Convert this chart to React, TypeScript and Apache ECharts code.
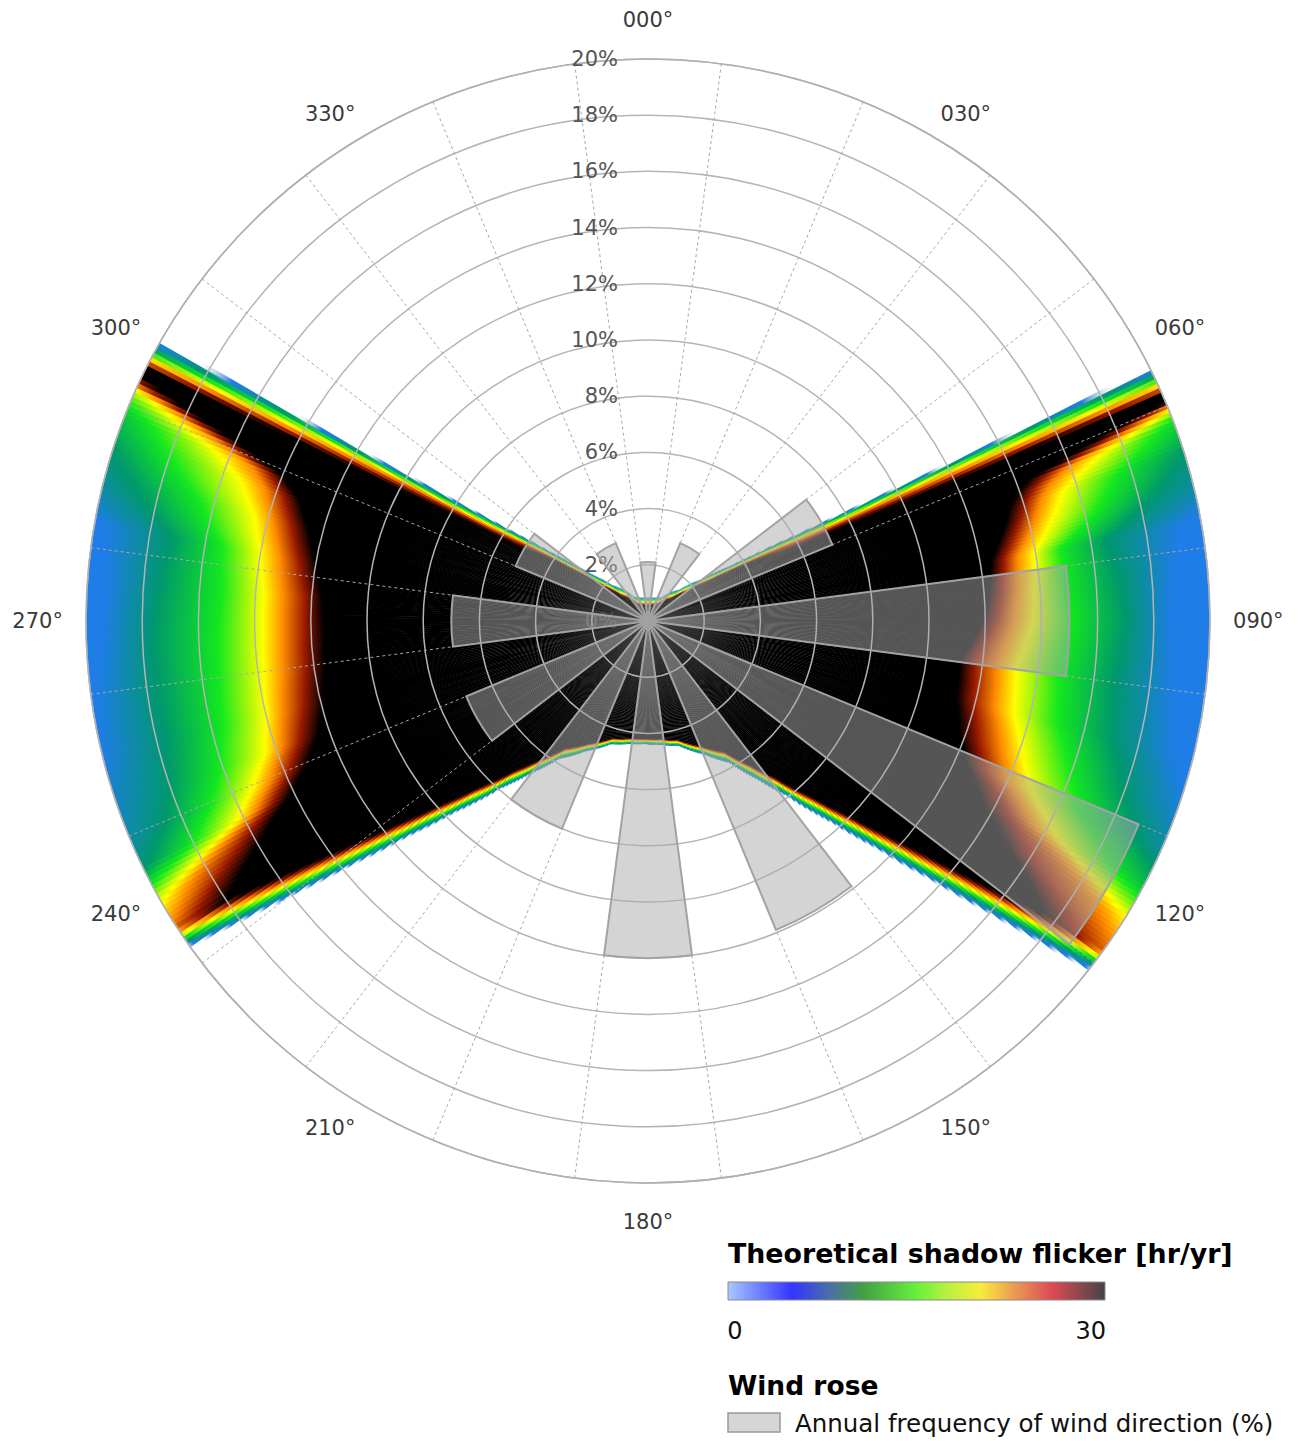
import React, { useEffect, useRef } from "react";
import * as echarts from "echarts";

const FONT = '"DejaVu Sans", Verdana, sans-serif';

// ---------------- Wind rose (12 sectors, annual frequency %) ----------------
const windDirections = ["000°", "030°", "060°", "090°", "120°", "150°", "180°", "210°", "240°", "270°", "300°", "330°"];
const windBearings = [0, 30, 60, 90, 120, 150, 180, 210, 240, 270, 300, 330];
const windFrequency = [2.1, 3.0, 7.1, 15.0, 18.9, 11.9, 12.0, 8.0, 7.0, 7.0, 5.1, 3.0];

// radius axis (%)
const radiusMin = 0;
const radiusMax = 20;
const radiusStep = 2;

// ---------------- Theoretical shadow flicker field ----------------
// colour scale of the map (hr/yr) -> rgba
const flickerLevels = [0, 3, 8, 13, 18, 22, 26, 30];
const flickerColors = [
  [195, 200, 210, 0],
  [30, 125, 230, 1],
  [0, 152, 108, 1],
  [20, 232, 30, 1],
  [255, 255, 0, 1],
  [255, 140, 0, 1],
  [150, 24, 0, 1],
  [0, 0, 0, 1],
];
// levels whose radii are given in the lobe rows
const fallLevels = [30, 26, 22, 18, 13, 8, 3];
const O = 40; // "open": beyond the 20 % ring

// edge rows: [bearing°, outer boundary %, width of the edge fade %]
const eastEdge = [
  [0, 0.85, 0.3], [15, 0.88, 0.3], [30, 0.98, 0.31], [45, 1.61, 0.52], [52, 2.45, 0.8],
  [56, 3.54, 1.15], [58, 4.55, 1.48], [60, 6.39, 2.36], [61, 8.0, 3.5], [62, 10.77, 5.9],
  [62.5, 13.0, 7.9], [63, 16.4, 11.0], [63.5, 20.7, 14.5], [64, 23.4, 16.2], [64.5, 27.0, 18.6],
  [65, 32.0, 21.8], [65.5, 38.9, 26.4], [66, 48.9, 32.4], [66.5, 60, 31.5],
];
// lobe rows: [bearing°, outer %, fade %, radius % where value falls to 30, 26, 22, 18, 13, 8, 3 hr/yr]
const eastLobe = [
  [67.0, O, 0, 20.2, 21.2, 22.2, 23.2, 24.8, 26.5, 29.5],
  [67.8, O, 0, 17.6, 18.6, 19.5, 20.5, 22.0, 24.0, 26.5],
  [68.7, O, 0, 16.0, 17.0, 17.9, 18.8, 20.3, 22.5, 25],
  [69.7, O, 0, 14.4, 15.2, 16.0, 17.2, 19.3, 21.5, 24.5],
  [71, O, 0, 13.9, 14.5, 15.2, 16.3, 18.6, 21, 24],
  [72.5, O, 0, 13.5, 14.1, 14.7, 15.5, 17.5, 20, 23],
  [76, O, 0, 13.0, 13.5, 14.1, 14.8, 16.5, 18.5, 22],
  [80, O, 0, 12.4, 12.85, 13.35, 13.95, 14.9, 16.5, 19.2],
  [85, O, 0, 12.2, 12.65, 13.2, 13.8, 14.9, 16.8, 18.8],
  [90, O, 0, 11.9, 12.4, 13.0, 13.7, 15.0, 17.0, 18.6],
  [97, O, 0, 11.2, 11.7, 12.5, 13.2, 14.7, 16.7, 18.8],
  [104, O, 0, 11.3, 11.9, 12.7, 13.4, 15.0, 17.0, 19.3],
  [110, O, 0, 11.8, 12.5, 13.4, 14.2, 16.0, 18.0, 20.5],
  [114, O, 0, 12.4, 13.1, 14.0, 14.9, 16.8, 19.0, 21.5],
  [118, O, 0, 13.4, 14.5, 15.5, 16.5, 18.7, 21.0, 24],
  [122, O, 0, 15.0, 16.3, 18.8, 20.2, 22.5, 25, 28],
  [125, 32, 10, 16.8, 18.3, 20.3, 21.5, 23.5, 26, 29],
  [126, 25.2, 6.5, 17.3, 18.8, 20.8, 22, 24, 26.5, 29.5],
  [127, 22.5, 5.6, 17.8, 19.3, 21.2, 22.5, 24.5, 27, 30],
];
const southEdge = [
  [128.3, 19.9, 4.9], [129.4, 17.7, 4.0], [130.6, 15.8, 3.3], [132.3, 13.7, 2.55], [134.6, 11.6, 1.87],
  [137.4, 9.8, 1.37], [141.4, 8.0, 0.95], [145.2, 6.9, 0.72], [150, 5.85, 0.5], [157, 5.18, 0.34],
  [166, 4.6, 0.25], [174, 4.45, 0.23], [181.4, 4.4, 0.22], [188.8, 4.45, 0.23], [196.8, 4.6, 0.25],
  [205.8, 5.18, 0.34], [212.8, 5.87, 0.5], [217.6, 6.9, 0.72], [221.4, 8.0, 0.95], [225.4, 9.8, 1.37],
  [228.2, 11.6, 1.87], [230.5, 13.7, 2.55], [232.2, 15.8, 3.3], [233.4, 17.7, 4.0], [234.5, 19.9, 4.9],
];
const westLobe = [
  [235.8, 22.5, 5.6, 18.3, 19.8, 21, 22.3, 24, 26.5, 29.5],
  [236.8, 25.2, 6.5, 17.9, 19.3, 20.6, 21.8, 23.5, 26, 29],
  [237.8, 32, 10, 17.3, 18.7, 20.0, 21.2, 23, 25.5, 28.5],
  [240.5, O, 0, 15.8, 17.0, 18.6, 19.6, 21.5, 23.5, 26],
  [244, O, 0, 14.2, 14.9, 15.6, 16.3, 18.0, 19.8, 22.5],
  [247, O, 0, 13.2, 13.9, 14.6, 15.3, 16.9, 18.7, 21.5],
  [251, O, 0, 12.4, 13.1, 13.8, 14.4, 16.1, 18.0, 20.8],
  [256, O, 0, 11.9, 12.6, 13.4, 14.0, 15.6, 17.6, 20],
  [262, O, 0, 11.6, 12.3, 13.1, 13.8, 15.4, 17.6, 19.8],
  [268, O, 0, 11.5, 12.2, 13.0, 13.7, 15.3, 17.6, 19.4],
  [274, O, 0, 11.6, 12.2, 13.0, 13.7, 15.2, 17.4, 19.3],
  [280, O, 0, 12.0, 12.6, 13.3, 14.0, 15.4, 17.2, 19.6],
  [285, O, 0, 12.5, 13.1, 13.8, 14.5, 16.5, 19.0, 22.5],
  [289, O, 0, 13.1, 13.7, 14.4, 15.3, 18.0, 20.5, 24],
  [291.5, O, 0, 13.9, 14.5, 15.2, 16.5, 19.0, 21.5, 24.5],
  [293, O, 0, 15.3, 16.2, 17.0, 18.2, 20.3, 22.5, 25.5],
  [294, O, 0, 16.8, 17.8, 18.6, 19.5, 21.2, 23.2, 26],
  [295, O, 0, 18.8, 19.8, 20.6, 21.5, 23, 25, 28],
  [296, O, 0, 20.2, 21.2, 22.2, 23.2, 24.8, 26.5, 29.5],
];
const westEdge = [
  [296.5, 60, 31.5], [297, 49.6, 33.4], [297.5, 38.9, 26.5], [298, 31.9, 21.9], [298.5, 26.9, 18.6],
  [299, 23.4, 16.4], [299.5, 20.6, 14.5], [300, 16.1, 10.9], [300.5, 12.7, 7.8], [301, 10.5, 5.8],
  [302, 7.85, 3.45], [303, 6.25, 2.31], [305, 4.44, 1.48], [307, 3.45, 1.15], [310, 2.59, 0.86],
  [315, 1.84, 0.62], [330, 1.01, 0.34], [345, 0.88, 0.3],
];

// legend colour bar
const legendStops = [0, 0.17, 0.27, 0.36, 0.5, 0.58, 0.67, 0.76, 0.86, 1];
const legendColors = ["#a6c8ff", "#3434ff", "#4a6fa5", "#44a044", "#66f03c", "#b8f040", "#f8ec3c", "#ec9a52", "#dc4a55", "#444444"];
const legendMin = "0";
const legendMax = "30";

// ---------------- helpers ----------------
const padEdge = (r: number[]) => [r[0], r[1], r[2], O, O, O, O, O, O, O];
const fieldRows: number[][] = [
  ...eastEdge.map(padEdge),
  ...eastLobe,
  ...southEdge.map(padEdge),
  ...westLobe,
  ...westEdge.map(padEdge),
];

function rampColor(v: number) {
  const x = Math.max(0, Math.min(30, v));
  for (let k = 0; k < flickerLevels.length - 1; k++) {
    if (x <= flickerLevels[k + 1]) {
      const t = (x - flickerLevels[k]) / (flickerLevels[k + 1] - flickerLevels[k]);
      const a = flickerColors[k];
      const b = flickerColors[k + 1];
      const c = a.map((q, j) => q + (b[j] - q) * t);
      return `rgba(${Math.round(c[0])},${Math.round(c[1])},${Math.round(c[2])},${c[3].toFixed(3)})`;
    }
  }
  return "rgba(0,0,0,1)";
}

function fieldValue(row: number[], r: number) {
  const falls = row.slice(3);
  let fv = 3;
  if (r <= falls[0]) fv = 30;
  else {
    for (let k = 0; k < falls.length - 1; k++) {
      if (r <= falls[k + 1]) {
        const t = (r - falls[k]) / Math.max(1e-6, falls[k + 1] - falls[k]);
        fv = fallLevels[k] + t * (fallLevels[k + 1] - fallLevels[k]);
        break;
      }
    }
  }
  const ev = row[2] > 0 ? (30 * (row[1] - r)) / row[2] : r < row[1] ? 30 : 0;
  return Math.max(0, Math.min(fv, ev, 30));
}

function buildStops(row: number[]) {
  const cand: number[] = [0, radiusMax];
  for (let k = 3; k < 10; k++) if (row[k] > 0 && row[k] < radiusMax) cand.push(row[k]);
  if (row[2] > 0) {
    for (const L of flickerLevels) {
      const r = row[1] - (row[2] * L) / 30;
      if (r > 0 && r < radiusMax) cand.push(r);
    }
  } else if (row[1] < radiusMax) cand.push(row[1]);
  const sorted = Array.from(new Set(cand.map((c) => Math.round(c * 1000) / 1000))).sort((a, b) => a - b);
  return sorted.map((r) => ({ offset: r / radiusMax, color: rampColor(fieldValue(row, r)) }));
}

function lerpRow(a: number[], b: number[], t: number) {
  return a.map((v, j) => v + (b[j] - v) * t);
}

export default function App() {
  const ref = useRef<HTMLDivElement>(null);

  useEffect(() => {
    const el = ref.current;
    if (!el) return;
    const chart = echarts.init(el, null, { renderer: "svg" });

    const angleCategories: string[] = [];
    const barData: (number | string)[] = [];
    for (let i = 0; i < 24; i++) {
      angleCategories.push(i % 2 === 0 ? windDirections[i / 2] : "");
      barData.push(i % 2 === 0 ? windFrequency[i / 2] : "-");
    }

    // direction labels, placed through a third (label) polar system spanning 0..labelAxisMax
    const labelAxisMax = 22;
    const sideLabelRadius = 20.82;
    const poleLabelRadius = 21.38;
    const labelData = windDirections.map((name, i) => {
      const b = windBearings[i];
      const pole = b % 180 === 0;
      return {
        name,
        value: [pole ? poleLabelRadius : sideLabelRadius, b],
        label: { align: pole ? "center" : b < 180 ? "left" : "right", verticalAlign: "middle" },
      };
    });

    const renderField = (params: any, api: any) => {
      const i = params.dataIndex;
      const a = fieldRows[i];
      const bRow = fieldRows[(i + 1) % fieldRows.length];
      const b0 = a[0];
      let b1 = bRow[0];
      if (b1 <= b0) b1 += 360;
      const cs = params.coordSys;
      const cx = cs.cx;
      const cy = cs.cy;
      const Rpx = cs.r;
      const n = Math.max(1, Math.ceil((b1 - b0) / 0.5));
      const children: any[] = [];
      for (let k = 0; k < n; k++) {
        const ta = k / n;
        const tb = (k + 1) / n;
        const row = lerpRow(a, bRow, (k + 0.5) / n);
        const angA = b0 + (b1 - b0) * ta;
        const angB = b0 + (b1 - b0) * tb;
        const pA = api.coord([radiusMax, angA % 360]);
        const pB = api.coord([radiusMax, angB % 360]);
        const s = Math.atan2(pA[1] - cy, pA[0] - cx);
        let e = Math.atan2(pB[1] - cy, pB[0] - cx);
        while (e <= s) e += Math.PI * 2;
        e += 0.0025;
        const rEnd = (Math.min(row[1], radiusMax) / radiusMax) * Rpx;
        children.push({
          type: "sector",
          shape: { cx, cy, r0: 0, r: rEnd, startAngle: s, endAngle: e, clockwise: true },
          style: {
            fill: { type: "radial", x: cx, y: cy, r: Rpx, global: true, colorStops: buildStops(row) },
          },
        });
      }
      return { type: "group", children };
    };

    const option: any = {
      animation: false,
      backgroundColor: "#ffffff",
      textStyle: { fontFamily: FONT },
      polar: [
        { center: [648, 621], radius: 562 },
        { center: [648, 621], radius: 562 },
        { center: [648, 621], radius: (562 * labelAxisMax) / radiusMax },
      ],
      angleAxis: [
        {
          polarIndex: 0,
          type: "category",
          data: angleCategories,
          startAngle: 97.5,
          clockwise: true,
          boundaryGap: true,
          z: 3,
          axisLine: { show: true, lineStyle: { color: "#b0b0b0", width: 1.5 } },
          axisTick: { show: false },
          splitLine: { show: true, lineStyle: { color: "#a8a8a8", width: 1, type: [3, 3] } },
          axisLabel: { show: false },
        },
        { polarIndex: 1, type: "value", min: 0, max: 360, startAngle: 90, clockwise: true, show: false },
        { polarIndex: 2, type: "value", min: 0, max: 360, startAngle: 90, clockwise: true, show: false },
      ],
      radiusAxis: [
        {
          polarIndex: 0,
          type: "value",
          min: radiusMin,
          max: radiusMax,
          interval: radiusStep,
          z: 3,
          axisLine: { show: false },
          axisTick: { show: false },
          axisLabel: { show: false },
          splitLine: { show: true, lineStyle: { color: "#b4b4b4", width: 1.5 } },
        },
        {
          polarIndex: 1,
          type: "value",
          min: radiusMin,
          max: radiusMax,
          interval: radiusStep,
          z: 3,
          axisLine: { show: false },
          axisTick: { show: false },
          splitLine: { show: false },
          axisLabel: { formatter: "{value}%", color: "#555", fontSize: 21, margin: 30, fontFamily: FONT },
        },
        { polarIndex: 2, type: "value", min: 0, max: labelAxisMax, show: false },
      ],
      series: [
        {
          type: "custom",
          name: "Theoretical shadow flicker",
          coordinateSystem: "polar",
          polarIndex: 1,
          z: 1,
          silent: true,
          data: fieldRows.map((r, i) => [0, r[0], i]),
          renderItem: renderField,
        },
        {
          type: "bar",
          name: "Wind rose",
          coordinateSystem: "polar",
          polarIndex: 0,
          z: 4,
          silent: true,
          barCategoryGap: "0%",
          data: barData,
          itemStyle: { color: "rgba(170,170,170,0.5)", borderColor: "#a3a3a3", borderWidth: 2 },
        },
        {
          type: "scatter",
          name: "Direction labels",
          coordinateSystem: "polar",
          polarIndex: 2,
          z: 5,
          silent: true,
          clip: false,
          symbol: "circle",
          symbolSize: 2,
          itemStyle: { color: "rgba(255,255,255,0)" },
          label: {
            show: true,
            position: "inside",
            formatter: "{b}",
            color: "#3a3a3a",
            opacity: 1,
            textBorderWidth: 0,
            textShadowBlur: 0,
            fontSize: 21,
            fontFamily: FONT,
          },
          data: labelData,
        },
      ],
      graphic: [
        {
          type: "text",
          x: 728,
          y: 1253,
          style: { text: "Theoretical shadow flicker [hr/yr]", font: `bold 26.8px ${FONT}`, fill: "#000", verticalAlign: "middle" },
        },
        {
          type: "rect",
          shape: { x: 728, y: 1282, width: 377, height: 18 },
          style: {
            fill: new echarts.graphic.LinearGradient(
              0, 0, 1, 0,
              legendStops.map((o, i) => ({ offset: o, color: legendColors[i] }))
            ),
            stroke: "#8a8a8a",
            lineWidth: 1,
          },
        },
        { type: "text", x: 735, y: 1331, style: { text: legendMin, font: `24px ${FONT}`, fill: "#111", align: "center", verticalAlign: "middle" } },
        { type: "text", x: 1106, y: 1331, style: { text: legendMax, font: `24px ${FONT}`, fill: "#111", align: "right", verticalAlign: "middle" } },
        { type: "text", x: 728, y: 1385, style: { text: "Wind rose", font: `bold 26.5px ${FONT}`, fill: "#000", verticalAlign: "middle" } },
        { type: "rect", shape: { x: 728, y: 1413, width: 52, height: 19 }, style: { fill: "#d6d6d6", stroke: "#9a9a9a", lineWidth: 1.5 } },
        {
          type: "text",
          x: 795,
          y: 1423,
          style: { text: "Annual frequency of wind direction (%)", font: `24.5px ${FONT}`, fill: "#111", verticalAlign: "middle" },
        },
      ],
    };

    chart.setOption(option);
    return () => chart.dispose();
  }, []);

  return (
    <div
      ref={ref}
      style={{ position: "absolute", left: 0, top: 0, width: 1301, height: 1441, background: "#ffffff" }}
    />
  );
}
